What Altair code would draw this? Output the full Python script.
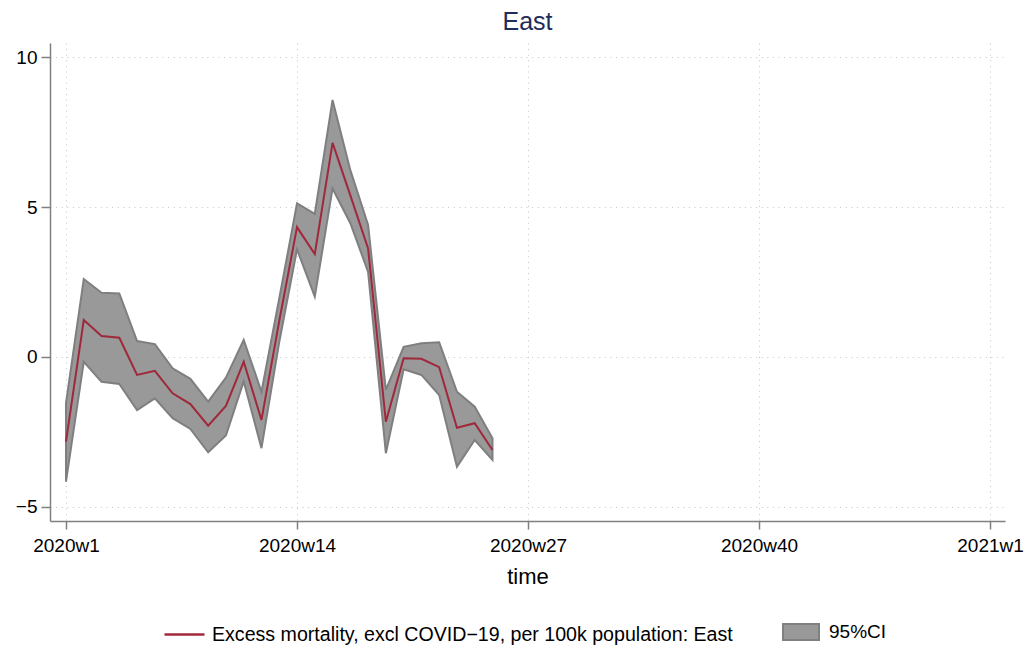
import altair as alt
import pandas as pd

# ---- data ----
week_labels = ["2020w%d" % i for i in range(1, 26)]
week_index = list(range(0, 25))
estimate = [-2.82, 1.23, 0.70, 0.64, -0.60, -0.46, -1.21, -1.57, -2.29, -1.63,
            -0.16, -2.10, 1.20, 4.33, 3.43, 7.14, 5.39, 3.62, -2.16, -0.04,
            -0.06, -0.34, -2.36, -2.21, -3.10]
ci_upper = [-1.54, 2.60, 2.14, 2.12, 0.53, 0.43, -0.38, -0.73, -1.49, -0.69,
            0.57, -1.16, 1.95, 5.12, 4.77, 8.57, 6.23, 4.40, -1.10, 0.34,
            0.46, 0.49, -1.16, -1.66, -2.71]
ci_lower = [-4.16, -0.16, -0.83, -0.90, -1.77, -1.38, -2.04, -2.40, -3.18, -2.62,
            -0.82, -3.04, 0.50, 3.59, 2.01, 5.62, 4.46, 2.84, -3.21, -0.41,
            -0.60, -1.27, -3.66, -2.77, -3.43]

tick_values = [0, 13, 26, 39, 52]
tick_labels = ["2020w1", "2020w14", "2020w27", "2020w40", "2021w1"]
y_ticks = [-5, 0, 5, 10]

series_name = "Excess mortality, excl COVID\u221219, per 100k population: East"
band_name = "95%CI"

df = pd.DataFrame({
    "week": week_index,
    "label": week_labels,
    "est": estimate,
    "hi": ci_upper,
    "lo": ci_lower,
    "series": series_name,
    "band": band_name,
})

FONT = "Liberation Sans"
label_map = "{" + ",".join("'%d':'%s'" % (v, l) for v, l in zip(tick_values, tick_labels)) + "}"

x_scale = alt.Scale(domain=[-0.9, 52.84], nice=False, zero=False)
y_scale = alt.Scale(domain=[-5.47, 10.47], nice=False, zero=False)

x_axis = alt.Axis(values=tick_values, labelExpr=label_map + "[datum.value]",
                  title="time", titleFontSize=22, titleFont=FONT, titleFontWeight="normal",
                  titleColor="black", titlePadding=11,
                  labelFontSize=19, labelFont=FONT, labelColor="black", labelPadding=7,
                  tickSize=8, tickColor="#808080", tickWidth=1.5,
                  domainColor="#808080", domainWidth=1.5,
                  grid=True, gridColor="#c4c4c4", gridDash=[1, 4.6], gridWidth=1,
                  labelOverlap=False, labelFlush=False)
y_axis = alt.Axis(values=y_ticks, title=None,
                  labelFontSize=19, labelFont=FONT, labelColor="black", labelPadding=4,
                  tickSize=9, tickColor="#808080", tickWidth=1.5,
                  domainColor="#808080", domainWidth=1.5,
                  grid=True, gridColor="#c4c4c4", gridDash=[1, 4.6], gridWidth=1)

base = alt.Chart(df)

band = base.mark_area(fill="#999999", stroke="#7f7f7f", strokeWidth=2, opacity=1,
                      interpolate="linear").encode(
    x=alt.X("week:Q", scale=x_scale, axis=x_axis),
    y=alt.Y("lo:Q", scale=y_scale, axis=y_axis),
    y2="hi:Q",
    fill=alt.Fill("band:N",
                  scale=alt.Scale(domain=[band_name], range=["#999999"]),
                  legend=alt.Legend(orient="none", legendX=732, legendY=570, title=None,
                                    symbolType="M-1,-0.45H1V0.45H-1Z", symbolSize=1296,
                                    symbolStrokeColor="#808080", symbolStrokeWidth=2,
                                    symbolFillColor="#999999", symbolOpacity=1,
                                    labelFontSize=19, labelFont=FONT, labelColor="black",
                                    labelOffset=9, padding=0)),
)

line = base.mark_line(strokeWidth=2, interpolate="linear").encode(
    x=alt.X("week:Q", scale=x_scale),
    y=alt.Y("est:Q", scale=y_scale),
    stroke=alt.Stroke("series:N",
                      scale=alt.Scale(domain=[series_name], range=["#a0283b"]),
                      legend=alt.Legend(orient="none", legendX=113, legendY=570, title=None,
                                        symbolType="stroke", symbolSize=1600,
                                        symbolStrokeWidth=2.5, symbolStrokeColor="#a0283b",
                                        labelFontSize=19.6, labelFont=FONT, labelColor="black",
                                        labelOffset=6, padding=0, labelLimit=800)),
)

chart = alt.layer(band, line).resolve_scale(fill="independent", stroke="independent").properties(
    width=955,
    height=478,
    background="white",
    title=alt.Title("East", fontSize=25, font=FONT, fontWeight="normal", color="#1e2d5a",
                    anchor="middle", offset=8),
    padding={"left": 42, "top": 35, "right": 20, "bottom": 127},
    autosize=alt.AutoSizeParams(type="none"),
).configure_view(stroke=None)

chart.save("out.html", embed_options={"renderer": "svg", "actions": False})
